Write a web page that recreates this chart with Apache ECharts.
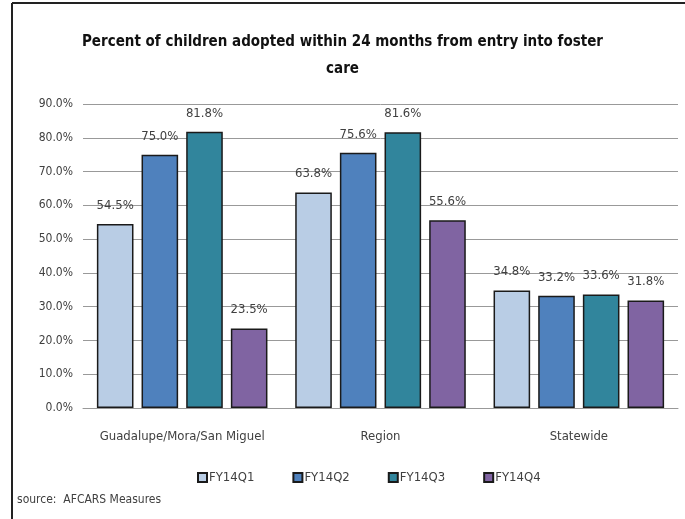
<!DOCTYPE html>
<html>
<head>
<meta charset="utf-8">
<script src="https://cdn.jsdelivr.net/npm/echarts@6/dist/echarts.min.js"></script>
<style>
  html, body { margin: 0; padding: 0; background: #fff; }
  #chart { width: 685px; height: 519px; }
</style>
</head>
<body>
<div id="chart"></div>
<script>
// 数据
const categories = ['Guadalupe/Mora/San Miguel', 'Region', 'Statewide'];
const quarters = ['FY14Q1', 'FY14Q2', 'FY14Q3', 'FY14Q4'];
const q1 = [54.5, 63.8, 34.8];
const q2 = [75.0, 75.6, 33.2];
const q3 = [81.8, 81.6, 33.6];
const q4 = [23.5, 55.6, 31.8];
const colors = ['#B9CDE5', '#4F81BD', '#31859C', '#8064A2'];

const fontFam = '"Liberation Sans Narrow", "DejaVu Sans Condensed", sans-serif';
const chart = echarts.init(document.getElementById('chart'));

const seriesData = [q1, q2, q3, q4];

const options = {
    animation: false,
    title: {
        text: 'Percent of children adopted within 24 months from entry into foster\ncare',
        left: 'center',
        top: 24,
        textStyle: {
            fontFamily: fontFam,
            fontSize: 15,
            fontWeight: 'bold',
            color: '#111',
            lineHeight: 27
        }
    },
    legend: {
        data: quarters,
        bottom: 30,
        left: 192,
        itemWidth: 9,
        itemHeight: 9,
        itemGap: 38,
        icon: 'rect',
        textStyle: { fontFamily: fontFam, fontSize: 13, color: '#404040', padding: [0, 0, 0, -3] }
    },
    grid: { left: 83, right: 7, top: 104, bottom: 111 },
    xAxis: {
        type: 'category',
        data: categories,
        axisTick: { show: false },
        axisLine: { lineStyle: { color: '#999', width: 1 } },
        axisLabel: { fontFamily: fontFam, fontSize: 13, color: '#404040', margin: 22, interval: 0 }
    },
    yAxis: {
        type: 'value',
        min: 0,
        max: 90,
        interval: 10,
        axisLine: { show: false },
        axisTick: { show: false },
        splitLine: { lineStyle: { color: '#999', width: 1 } },
        axisLabel: {
            fontFamily: fontFam, fontSize: 12, color: '#404040', margin: 10,
            formatter: v => v.toFixed(1) + '%'
        }
    },
    graphic: [
        { type: 'line', shape: { x1: 12, y1: 3, x2: 685, y2: 3 }, style: { stroke: '#222', lineWidth: 2 } },
        { type: 'line', shape: { x1: 12, y1: 3, x2: 12, y2: 519 }, style: { stroke: '#222', lineWidth: 2 } },
        {
            type: 'text', left: 17, top: 494,
            style: { text: 'source:  AFCARS Measures', font: '12px ' + fontFam, fill: '#404040' }
        }
    ],
    series: seriesData.map((d, i) => ({
        name: quarters[i],
        type: 'bar',
        data: d,
        barGap: '22%',
        barCategoryGap: '14%',
        itemStyle: { color: colors[i], borderColor: '#1a1a1a', borderWidth: 1.5 },
        label: {
            show: true,
            position: 'top',
            distance: 12,
            fontFamily: fontFam,
            fontSize: 13,
            color: '#404040',
            formatter: p => p.value.toFixed(1) + '%'
        }
    }))
};

chart.setOption(options);
</script>
</body>
</html>
